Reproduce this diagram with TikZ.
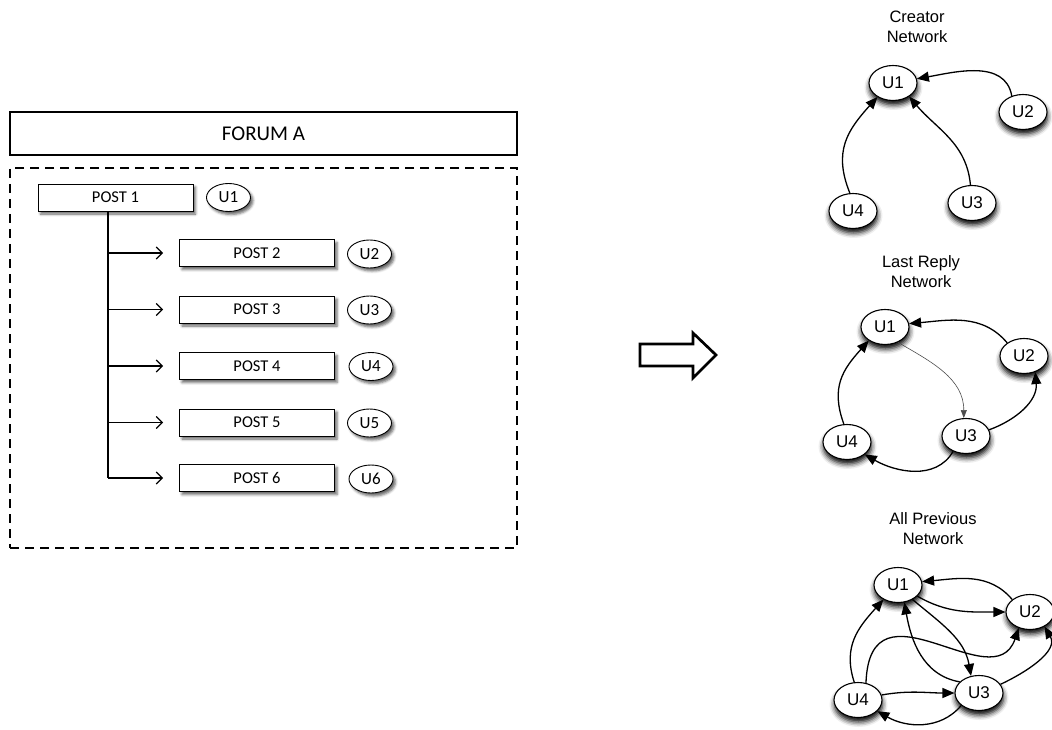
\documentclass[tikz,border=0pt]{standalone}
\usepackage{fontspec}
\setmainfont{Carlito}
\newfontfamily\helv{Liberation Sans}
\usetikzlibrary{arrows.meta,shapes.geometric,shadows.blur}

\begin{document}
\begin{tikzpicture}[x=1pt,y=1pt,
  boxshadow/.style={blur shadow={shadow xshift=2.5pt,shadow yshift=-3pt,shadow blur radius=2.5pt,shadow opacity=60}},
  netshadow/.style={blur shadow={shadow xshift=0.5pt,shadow yshift=-4.5pt,shadow blur radius=5pt,shadow opacity=100}},
  post/.style={draw,line width=0.9pt,fill=white,minimum width=155pt,minimum height=27pt,inner sep=0pt,
    font=\fontsize{16.5}{16.5}\selectfont,boxshadow},
  user/.style={draw,ellipse,line width=0.9pt,fill=white,minimum width=44pt,minimum height=28pt,inner sep=0pt,
    font=\fontsize{17}{17}\selectfont,boxshadow},
  net/.style={draw,ellipse,line width=1.1pt,fill=white,minimum width=48pt,minimum height=35pt,inner sep=0pt,
    font=\helv\fontsize{17}{17}\selectfont,netshadow},
  nettitle/.style={align=center,font=\helv\fontsize{16.5}{20}\selectfont},
  link/.style={line width=1.3pt,-{Triangle[length=12pt,width=10pt]}},
  thinlink/.style={line width=0.6pt,draw=black!70,-{Triangle[length=8pt,width=6pt]}},
  branch/.style={line width=1.2pt,-{Straight Barb[length=6pt,width=12pt]}},
]
\useasboundingbox (0,0) rectangle (1052,-730);
\clip (0,0) rectangle (1052,-730);

% ---------- forum thread ----------
\node[draw,line width=2pt,minimum width=507pt,minimum height=43pt,inner sep=0pt,
  font=\fontsize{21}{21}\selectfont] (forum) at (263.5,-133.5) {FORUM A};
\node[draw,line width=2.2pt,dash pattern=on 9pt off 6pt,minimum width=507pt,minimum height=380pt,
  inner sep=0pt] (thread) at (263.5,-358) {};

\node[post] (p1) at (115.5,-197.5) {POST 1};
\node[user] (u1) at (228.5,-197.5) {U1};
\node[post] (p2) at (257,-253) {POST 2};
\node[post] (p3) at (257,-309.5) {POST 3};
\node[post] (p4) at (257,-366) {POST 4};
\node[post] (p5) at (257,-422.5) {POST 5};
\node[post] (p6) at (257,-478) {POST 6};
\node[user] (u2) at (369.5,-254) {U2};
\node[user] (u3) at (369.5,-310) {U3};
\node[user] (u4) at (371,-366.5) {U4};
\node[user] (u5) at (369.5,-423) {U5};
\node[user] (u6) at (371,-479) {U6};

\coordinate (trunk) at (108,0);
\draw[line width=1.2pt] (p1.south -| trunk) -- (p6.west -| trunk);
\foreach \p in {p2,p3,p4,p5,p6}
  \draw[branch] (\p.west -| trunk) -- ([xshift=-16pt]\p.west);

% ---------- transformation arrow ----------
\draw[line width=2.7pt,line join=miter] (640,-344) -- (693,-344) -- (693,-333) -- (716,-355)
  -- (693,-378) -- (693,-366) -- (640,-366) -- cycle;

% ---------- creator network ----------
\node[nettitle] (ctitle) at (917,-27) {Creator\\Network};
\node[net] (c1) at (893,-83) {U1};
\node[net] (c2) at (1023,-112) {U2};
\node[net] (c3) at (972,-203) {U3};
\node[net] (c4) at (853,-211) {U4};
\draw[link] (c2.125) to[out=100,in=10] (c1.10);
\draw[link] (c4.100) to[out=112,in=228,looseness=1.15] (c1.222);
\draw[link] (c3.95) to[out=95,in=-50] (c1.-40);

% ---------- last reply network ----------
\node[nettitle] (rtitle) at (921,-272) {Last Reply\\Network};
\node[net] (r1) at (885,-327) {U1};
\node[net] (r2) at (1024,-356) {U2};
\node[net] (r3) at (966,-436) {U3};
\node[net] (r4) at (847,-442) {U4};
\draw[link] (r2.142) to[out=130,in=5] (r1.8);
\draw[thinlink] (r1.-50) to[out=-30,in=90] (r3.97);
\draw[link] (r3.15) to[out=20,in=-85] (r2.-55);
\draw[link] (r3.230) to[out=-120,in=-30] (r4.-35);
\draw[link] (r4.100) to[out=110,in=228,looseness=1.15] (r1.220);

% ---------- all previous network ----------
\node[nettitle] (atitle) at (933,-529) {All Previous\\Network};
\node[net] (a1) at (898,-585) {U1};
\node[net] (a2) at (1030,-612) {U2};
\node[net] (a3) at (979,-693) {U3};
\node[net] (a4) at (858,-700) {U4};
\draw[link] (a2.145) to[out=130,in=5] (a1.8);
\draw[link] (a1.-30) to[out=-30,in=180] (a2.west);
\draw[link] (a1.-45) to[out=-40,in=100] (a3.115);
\draw[link] (a3.150) to[out=170,in=-80] (a1.-70);
\draw[link] (a4.102) to[out=108,in=228,looseness=1.1] (a1.225);
\draw[link] (a4.65) .. controls +(4,110) and +(-25,-73) .. (a2.235);
\draw[link] (a4.12) to[out=10,in=180] (a3.west);
\draw[link] (a3.22) to[out=25,in=-60] (a2.-45);
\draw[link] (a3.215) to[out=-130,in=-30] (a4.-30);
\end{tikzpicture}
\end{document}
